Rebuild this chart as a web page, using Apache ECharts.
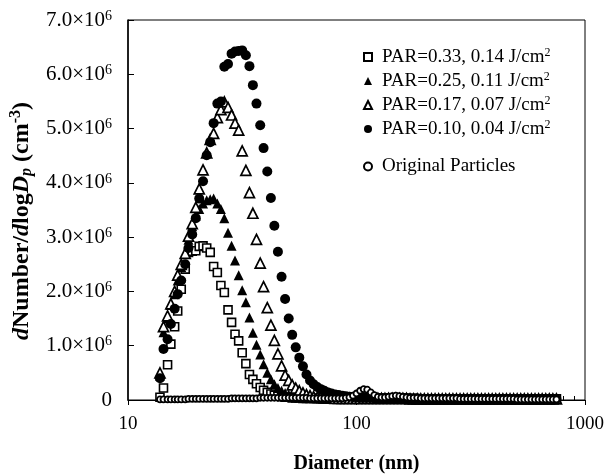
<!DOCTYPE html>
<html><head><meta charset="utf-8">
<script src="https://cdn.jsdelivr.net/npm/echarts@6/dist/echarts.min.js"></script>
<style>html,body{margin:0;padding:0;background:#fff}#c{width:605px;height:475px}</style>
</head><body><div id="c"></div>
<script>
// SMPS channel mid-point diameters (nm)
const diameters = [13.8,14.3,14.9,15.4,16.0,16.5,17.1,17.8,18.4,19.1,19.8,20.5,21.3,22.1,22.9,23.7,24.6,25.5,26.4,27.4,
28.4,29.4,30.5,31.6,32.8,34.0,35.2,36.5,37.9,39.2,40.7,42.2,43.7,45.3,47.0,48.7,50.5,52.3,54.2,56.2,
58.3,60.4,62.6,64.9,67.3,69.8,72.3,75.0,77.7,80.6,83.5,86.6,89.8,93.1,96.5,100.0,103.7,107.5,111.4,115.5,
119.7,124.1,128.6,133.2,138.2,143.3,148.6,154.0,159.6,165.5,171.5,177.8,184.4,191.1,198.1,205.4,212.9,220.7,228.8,237.2,
245.8,254.8,264.2,273.8,283.9,294.3,305.1,316.3,327.8,339.8,352.3,365.2,378.6,392.4,406.8,421.7,437.1,453.2,469.8,487.0,
504.8,523.3,542.5,562.3,582.9,604.3,626.4,649.4,673.2,697.8,723.4,749.9];

const seriesNames = ['PAR=0.33, 0.14 J/cm2','PAR=0.25, 0.11 J/cm2','PAR=0.17, 0.07 J/cm2','PAR=0.10, 0.04 J/cm2','Original Particles'];

// dNumber/dlogDp values in units of 10^6 cm^-3
const par033 = [0.05,0.22,0.65,1.03,1.35,1.64,2.04,2.41,2.72,2.74, 2.75,2.83,2.84,2.80,2.72,2.46,2.35,2.11,1.98,1.66,
1.43,1.21,1.09,0.87,0.67,0.47,0.38,0.30,0.23,0.18, 0.14,0.11,0.09,0.07,0.06,0.05,0.05,0.04,0.04,0.04,
0.03,0.03,0.03,0.03,0.03,0.03,0.03,0.03,0.03,0.03, 0.03,0.03,0.03,0.03,0.03,0.03,0.03,0.03,0.03,0.03,
0.03,0.03,0.03,0.03,0.03,0.03,0.03,0.03,0.03,0.03, 0.02,0.02,0.02,0.02,0.02,0.02,0.02,0.02,0.02,0.02,
0.02,0.02,0.02,0.02,0.02,0.02,0.02,0.02,0.02,0.02, 0.02,0.02,0.02,0.02,0.02,0.02,0.02,0.02,0.02,0.02,
0.02,0.02,0.02,0.02,0.02,0.02,0.02,0.02,0.02,0.02, 0.02,0.02];

const par025 = [0.45,1.25,1.50,1.75,1.95,2.20,2.45,2.70,2.95,3.20, 3.40,3.52,3.62,3.68,3.70,3.71,3.62,3.52,3.35,3.08,
2.84,2.57,2.30,2.02,1.80,1.52,1.24,1.02,0.84,0.66, 0.50,0.38,0.29,0.22,0.17,0.13,0.10,0.08,0.06,0.05,
0.05,0.04,0.04,0.04,0.03,0.03,0.03,0.03,0.03,0.03, 0.03,0.03,0.03,0.03,0.03,0.03,0.03,0.03,0.03,0.03,
0.03,0.03,0.03,0.03,0.03,0.03,0.03,0.03,0.03,0.03, 0.02,0.02,0.02,0.02,0.02,0.02,0.02,0.02,0.02,0.02,
0.02,0.02,0.02,0.02,0.02,0.02,0.02,0.02,0.02,0.02, 0.02,0.02,0.02,0.02,0.02,0.02,0.02,0.02,0.02,0.02,
0.02,0.02,0.02,0.02,0.02,0.02,0.02,0.02,0.02,0.02, 0.02,0.02];

const par017 = [0.50,1.35,1.55,1.77,2.00,2.30,2.50,2.70,3.02,3.25, 3.55,3.89,4.24,4.55,4.80,4.91,5.20,5.35,5.49,5.39,
5.25,5.10,4.97,4.59,4.23,3.82,3.44,2.96,2.52,2.09, 1.70,1.38,1.10,0.85,0.63,0.46,0.36,0.28,0.22,0.17,
0.13,0.10,0.08,0.06,0.05,0.05,0.04,0.04,0.04,0.03, 0.03,0.03,0.03,0.03,0.03,0.03,0.03,0.03,0.03,0.03,
0.03,0.03,0.03,0.03,0.03,0.03,0.03,0.03,0.03,0.03, 0.02,0.02,0.02,0.02,0.02,0.02,0.02,0.02,0.02,0.02,
0.02,0.02,0.02,0.02,0.02,0.02,0.02,0.02,0.02,0.02, 0.02,0.02,0.02,0.02,0.02,0.02,0.02,0.02,0.02,0.02,
0.02,0.02,0.02,0.02,0.02,0.02,0.02,0.02,0.02,0.02, 0.02,0.02];

const par010 = [0.40,0.94,1.12,1.40,1.68,1.95,2.20,2.50,2.80,3.05, 3.35,3.71,4.03,4.51,4.75,5.10,5.46,5.50,6.14,6.19,
6.38,6.42,6.43,6.44,6.35,6.15,5.80,5.46,5.06,4.64, 4.21,3.72,3.21,2.73,2.27,1.86,1.50,1.20,0.97,0.78,
0.62,0.47,0.36,0.29,0.24,0.20,0.17,0.14,0.12,0.10, 0.09,0.08,0.07,0.06,0.05,0.05,0.04,0.04,0.04,0.04,
0.03,0.03,0.03,0.03,0.03,0.03,0.03,0.03,0.03,0.03, 0.03,0.03,0.03,0.02,0.02,0.02,0.02,0.02,0.02,0.02,
0.02,0.02,0.02,0.02,0.02,0.02,0.02,0.02,0.02,0.02, 0.02,0.02,0.02,0.02,0.02,0.02,0.02,0.02,0.02,0.02,
0.02,0.02,0.02,0.02,0.02,0.02,0.02,0.02,0.02,0.02, 0.02,0.02];

const original = [0.01,0.01,0.01,0.01,0.01,0.01,0.01,0.01,0.02,0.02, 0.02,0.02,0.02,0.02,0.02,0.02,0.02,0.02,0.02,0.02,
0.03,0.03,0.03,0.03,0.03,0.03,0.03,0.03,0.04,0.04, 0.04,0.04,0.04,0.04,0.04,0.04,0.04,0.04,0.04,0.04,
0.04,0.04,0.03,0.03,0.03,0.03,0.03,0.03,0.03,0.03, 0.03,0.03,0.04,0.05,0.08,0.12,0.17,0.20,0.19,0.14,
0.09,0.06,0.05,0.05,0.06,0.07,0.08,0.07,0.06,0.05, 0.04,0.04,0.04,0.03,0.03,0.03,0.03,0.03,0.03,0.03,
0.03,0.03,0.03,0.03,0.02,0.02,0.02,0.02,0.02,0.02, 0.02,0.02,0.02,0.02,0.02,0.02,0.02,0.02,0.02,0.02,
0.01,0.01,0.01,0.01,0.01,0.01,0.01,0.01,0.01,0.01, 0.01,0.01];

const xMinorTicks = [20,30,40,50,60,70,80,90,200,300,400,500,600,700,800,900];

const SERIF = "'Liberation Serif','Times New Roman',serif";
const allValues = [par033, par025, par017, par010, original];
const symbols = [
  {symbol:'rect', size:8, style:{color:'#fff', borderColor:'#000', borderWidth:1.6, opacity:1}},
  {symbol:'triangle', size:10, style:{color:'#000', opacity:1}},
  {symbol:'triangle', size:10, style:{color:'#fff', borderColor:'#000', borderWidth:1.7, opacity:1}},
  {symbol:'circle', size:10, style:{color:'#000', opacity:1}},
  {symbol:'circle', size:6, style:{color:'#fff', borderColor:'#000', borderWidth:1.8, opacity:1}}
];

const legendText = { color:'#000', fontFamily:SERIF, fontSize:19, padding:[0,0,0,5],
  rich:{ t:{fontFamily:SERIF, fontSize:19, color:'#000', lineHeight:20},
         s:{fontFamily:SERIF, fontSize:12, color:'#000', verticalAlign:'top', lineHeight:20, padding:[0,0,9,0]} } };
const legendFormatter = function(n){ const m = n.match(/^(.*)cm2$/); return m ? '{t|'+m[1]+'cm}{s|2}' : '{t|'+n+'}'; };

const chart = echarts.init(document.getElementById('c'), null, {renderer:'canvas'});
const option = {
  animation:false,
  backgroundColor:'#fff',
  grid:{left:128, right:20, top:20, bottom:75, outerBoundsMode:'none', containLabel:false,
        show:true, borderColor:'#000', borderWidth:1, backgroundColor:'transparent'},
  legend:[{
    orient:'vertical', left:358, top:42, itemWidth:8, itemHeight:8, itemGap:3,
    data: seriesNames.slice(0,4), formatter:legendFormatter, textStyle:legendText
  },{
    orient:'vertical', left:358, top:152, itemWidth:8, itemHeight:8,
    data: seriesNames.slice(4), formatter:legendFormatter, textStyle:legendText
  }],
  xAxis:[{
    type:'log', logBase:10, min:10, max:1000, position:'bottom',
    axisLine:{onZero:false, lineStyle:{color:'#000', width:1}},
    axisTick:{show:true, inside:false, length:5, lineStyle:{color:'#000'}},
    axisLabel:{color:'#000', fontFamily:SERIF, fontSize:19, margin:15, formatter:function(v){ return String(Math.round(v)); }},
    splitLine:{show:false},
    name:'Diameter (nm)', nameLocation:'middle', nameGap:54,
    nameTextStyle:{fontFamily:SERIF, fontWeight:'bold', fontSize:20, color:'#000'}
  },{
    type:'log', logBase:10, min:10, max:1000, position:'bottom',
    axisLine:{show:false}, axisLabel:{show:false}, splitLine:{show:false},
    axisTick:{show:true, inside:true, length:4, customValues:xMinorTicks, lineStyle:{color:'#000'}}
  }],
  yAxis:{
    type:'value', min:0, max:7e6, interval:1e6,
    axisLine:{show:true, lineStyle:{color:'#000', width:1.5}},
    axisTick:{show:true, inside:true, length:6, lineStyle:{color:'#000'}},
    splitLine:{show:false},
    axisLabel:{ margin:16, color:'#000', fontFamily:SERIF, fontSize:21,
      formatter:function(v){ if (v===0) return '{n|0}'; return '{n|'+(v/1e6).toFixed(1)+'×10}{s|6}'; },
      rich:{ n:{fontFamily:SERIF, fontSize:21, color:'#000', lineHeight:22},
             s:{fontFamily:SERIF, fontSize:14, color:'#000', verticalAlign:'top', lineHeight:22, padding:[0,0,10,0]} } },
    name:'{bi|d}{b|Number/}{bi|d}{b|log}{bi|D}{sub|p}{b| (cm}{sup|-3}{b|)}',
    nameLocation:'middle', nameGap:76, nameRotate:90,
    nameTextStyle:{ color:'#000', fontFamily:SERIF, fontSize:24, fontWeight:'bold', padding:[0,22,0,0],
      rich:{ b:{fontFamily:SERIF, fontSize:24, fontWeight:'bold', color:'#000', lineHeight:27},
             bi:{fontFamily:SERIF, fontSize:24, fontWeight:'bold', fontStyle:'italic', color:'#000', lineHeight:27},
             sub:{fontFamily:SERIF, fontSize:16, fontWeight:'bold', fontStyle:'italic', color:'#000', lineHeight:27, padding:[10,0,0,0]},
             sup:{fontFamily:SERIF, fontSize:16, fontWeight:'bold', color:'#000', lineHeight:27, padding:[0,0,11,0]} } }
  },
  series: seriesNames.map(function(name, k){
    return { name:name, type:'scatter', xAxisIndex:0, symbol:symbols[k].symbol, symbolSize:symbols[k].size,
      itemStyle:symbols[k].style, emphasis:{disabled:true},
      data: diameters.map(function(d,i){ return [d, allValues[k][i]*1e6]; }) };
  })
};
chart.setOption(option);
</script></body></html>
